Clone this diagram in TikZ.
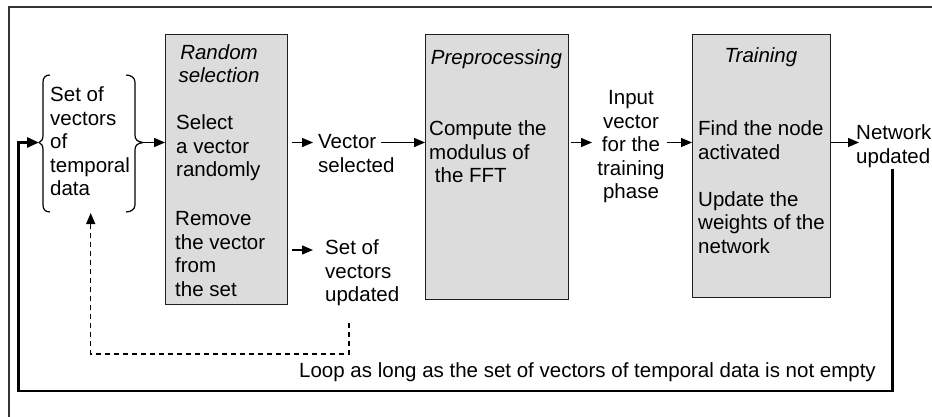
\documentclass[tikz,border=0pt]{standalone}
\usepackage{fontspec}
\setmainfont{Liberation Sans}
\usetikzlibrary{arrows.meta,calc}
\definecolor{boxgray}{HTML}{DCDCDC}
\definecolor{framegray}{HTML}{333333}
\begin{document}
\begin{tikzpicture}[x=1pt,y=-1pt,
  every node/.style={inner sep=0pt, font=\fontsize{20.5}{23.5}\selectfont},
  procbox/.style={draw=black!88, line width=1.4pt, fill=boxgray, anchor=north west},
  body/.style={align=left, anchor=north west},
  cbody/.style={align=center, anchor=north},
  boxtitle/.style={align=center, anchor=north, font=\fontsize{20.5}{23}\selectfont\itshape},
  flow/.style={line width=1.4pt, -{Triangle[length=11pt,width=9pt]}},
  loopline/.style={line width=2.7pt, -{Triangle[length=12pt,width=10pt]}},
  dashline/.style={line width=1.2pt, dash pattern=on 5pt off 4pt, -{Triangle[length=11pt,width=9pt]}},
  bracepath/.style={line width=1.2pt, line join=round},
  frameline/.style={draw=framegray, line width=2pt}]

\useasboundingbox (0,0) rectangle (932,416);
\clip (0,0) rectangle (932,416);

% outer frame (runs off the page to the right and below)
\draw[frameline] (9,7) rectangle (980,460);

% rows on which the horizontal arrows run
\coordinate (row1) at (0,142.5);
\coordinate (row2) at (0,250);

% set of temporal vectors, between braces
\node[body] (setdata) at (50,86.5) {Set of\\vectors\\of\\temporal\\data};
\coordinate (bl) at (39,142.5);
\coordinate (br) at (143,142.5);
\coordinate (bb) at (90.7,213);
\draw[bracepath] (50,75) .. controls (45.5,75) and (43,77.5) .. (43,82)
  -- (43,135) .. controls (43,139.5) and (41.5,141.5) .. (bl)
  .. controls (41.5,143.5) and (43,145.5) .. (43,150)
  -- (43,205) .. controls (43,209.5) and (45.5,212) .. (50,212);
\draw[bracepath] (126,75) .. controls (130.5,75) and (135,77.5) .. (135,82)
  -- (135,135) .. controls (135,139.5) and (137,141.5) .. (br)
  .. controls (137,143.5) and (135,145.5) .. (135,150)
  -- (135,205) .. controls (135,209.5) and (130.5,212) .. (126,212);

% random selection
\node[procbox, minimum width=122pt, minimum height=270pt] (rs) at (165,34) {};
\node[boxtitle] (rstitle) at (219,44.5) {Random\\selection};
\node[body] (rsb1) at (176,114.5) {Select\\a vector\\randomly};
\node[body] (rsb2) at (175,211.5) {Remove\\the vector\\from\\the set};

% outputs of the selection
\node[body] (vecsel) at (318,134.5) {Vector\\selected};
\node[body] (setupd) at (325,239.5) {Set of\\vectors\\updated};

% preprocessing
\node[procbox, minimum width=143pt, minimum height=265pt] (pp) at (425,34) {};
\node[boxtitle] (pptitle) at (496.5,49.5) {Preprocessing};
\node[body] (ppb) at (429,120.5) {Compute the\\modulus of\\\hspace*{0.28em}the FFT};

% input of the training phase
\node[cbody] (inputvec) at (631,90.5) {Input\\vector\\for the\\training\\phase};

% training
\node[procbox, minimum width=138pt, minimum height=263pt] (tr) at (692,34) {};
\node[boxtitle] (trtitle) at (761,47.5) {Training};
\node[body] (trb1) at (698,120.5) {Find the node\\activated};
\node[body] (trb2) at (698,191) {Update the\\weights of the\\network};

\node[body] (netupd) at (856,124.5) {Network\\updated};

% loop label
\node (looptxt) at (587.5,372) {Loop as long as the set of vectors of temporal data is not empty};

% connectors
\draw[flow] (br) -- (rs.west |- br);
\draw[flow] ($(rs.east |- row1)+(4,0)$) -- ($(vecsel.west |- row1)+(-5,0)$);
\draw[flow] ($(vecsel.west |- row1)+(63,0)$) -- (pp.west |- row1);
\draw[flow] ($(rs.east |- row2)+(4,0)$) -- ($(setupd.west |- row2)+(-12,0)$);
\draw[flow] ($(pp.east |- row1)+(2,0)$) -- ($(inputvec.north |- row1)+(-39,0)$);
\draw[flow] ($(inputvec.north |- row1)+(36,0)$) -- (tr.west |- row1);
\draw[flow] (tr.east |- row1) -- ($(netupd.west |- row1)+(3,0)$);

% return of the updated set
\coordinate (dstart) at (349,323);
\draw[dashline] (dstart) |- (bb |- 0,354) -- (bb);

% main loop back to the data set
\draw[loopline] ($(netupd.south)+(-1,1)$) |- (18.5,391) |- (bl);

\end{tikzpicture}
\end{document}
